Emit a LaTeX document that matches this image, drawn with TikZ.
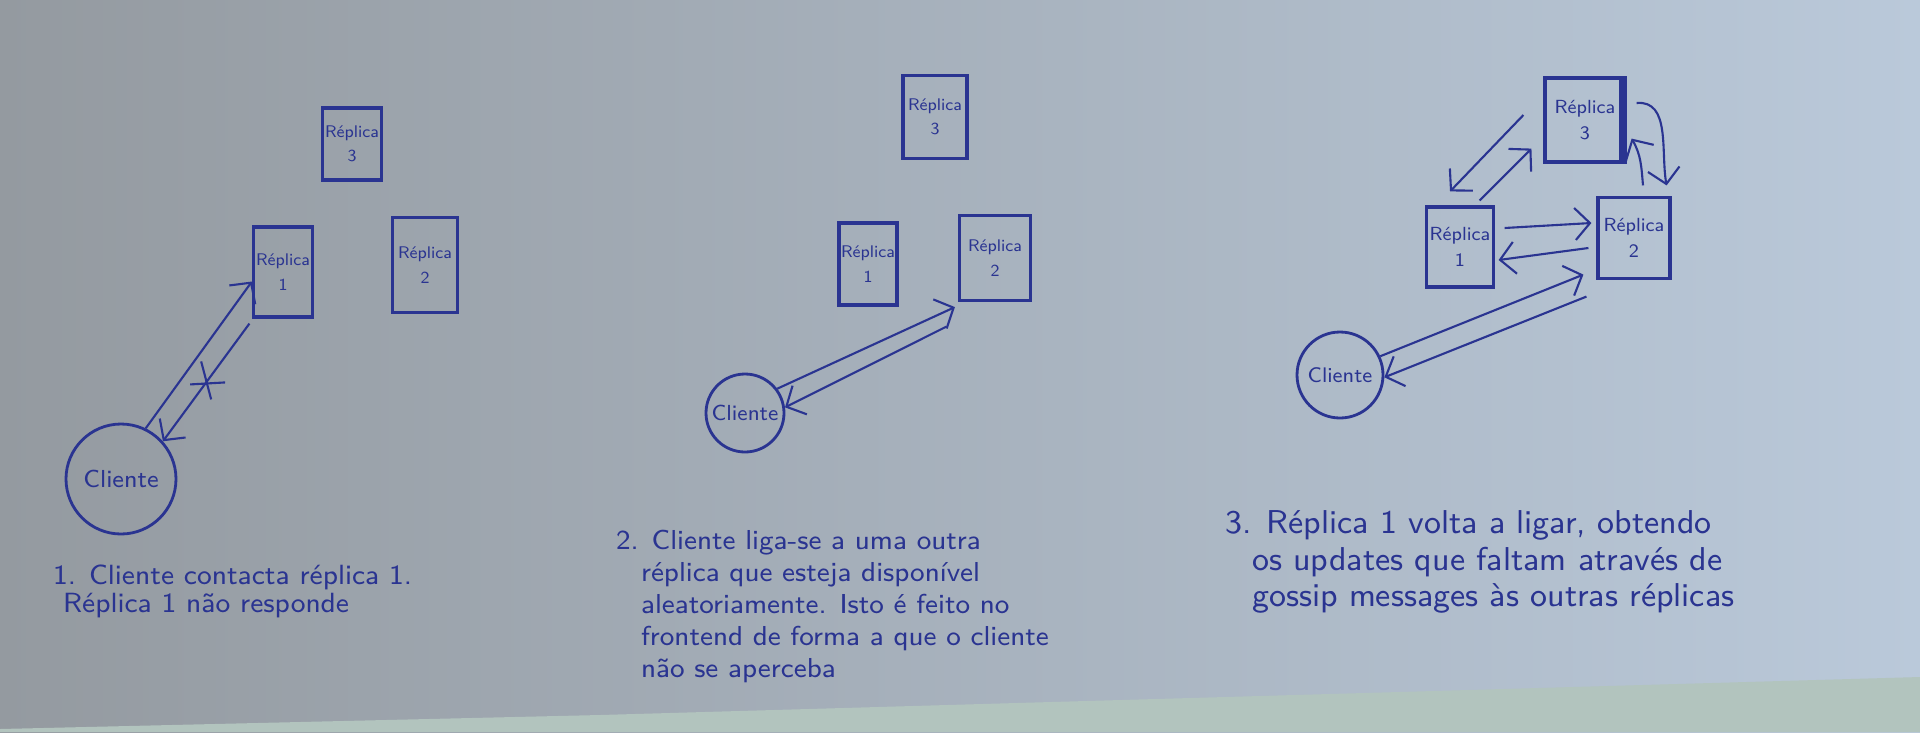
\documentclass[tikz,border=0pt]{standalone}
\usepackage{fontspec}
\usepackage{tikz}
\usetikzlibrary{arrows.meta}

\definecolor{ink}{RGB}{42,52,145}
\definecolor{paperL}{RGB}{148,154,160}
\definecolor{paperM}{RGB}{178,187,203}
\definecolor{paperR}{RGB}{186,201,218}
\definecolor{table}{RGB}{178,196,190}

\begin{document}
\begin{tikzpicture}[>={Straight Barb[length=1.5mm,width=3.2mm]},
    replica/.style={draw=ink, line width=.9pt, text=ink, inner sep=.4pt, align=center,
      font=\sffamily\fontsize{4.8}{7}\selectfont},
    cliente/.style={circle, draw=ink, line width=.8pt, text=ink, inner sep=.4pt,
      font=\sffamily\fontsize{7}{8}\selectfont},
    nota/.style={anchor=north west, align=left, text=ink, inner sep=0pt},
    every path/.style={ink, line width=.6pt}]
  \useasboundingbox (0,0) rectangle (19.2,7.32);
  % papel
  \shade[left color=paperL, middle color=paperM, right color=paperR] (0,0) rectangle (19.2,7.32);
  \fill[table] (0,0) -- (19.2,0) -- (19.2,0.55) -- (6,0.17) -- (0,0.03) -- cycle;

  % 1. replica 1 nao responde
  \node[replica, minimum width=.59cm, minimum height=.72cm] (r13) at (3.52,5.88) {Réplica\\3};
  \node[replica, minimum width=.59cm, minimum height=.90cm] (r11) at (2.83,4.60) {Réplica\\1};
  \node[replica, minimum width=.65cm, minimum height=.95cm] (r12) at (4.25,4.67) {Réplica\\2};
  \node[cliente, minimum size=1.1cm] (c1) at (1.21,2.53) {Cliente};
  \draw [->] (c1.64) -- (r11.197); % cliente -> replica 1
  \draw [->] ([shift={(-0.025,-0.05)}]r11.south west) -- coordinate[pos=0.5] (x1) (c1.42); % replica 1 -> cliente
  \draw ([shift={(-0.16,-0.02)}]x1) -- ([shift={(0.19,0)}]x1);
  \draw ([shift={(-0.05,0.21)}]x1) -- ([shift={(0.05,-0.17)}]x1);
  \node[nota, font=\sffamily\fontsize{7.9}{8}\selectfont] (t1) at (0.52,1.68)
    {1. Cliente contacta réplica 1.\\\hspace*{0.1cm}Réplica 1 não responde};

  % 2. cliente liga-se a outra replica
  \node[replica, minimum width=.64cm, minimum height=.83cm] (r23) at (9.35,6.15) {Réplica\\3};
  \node[replica, minimum width=.58cm, minimum height=.82cm] (r21) at (8.68,4.68) {Réplica\\1};
  \node[replica, minimum width=.71cm, minimum height=.85cm] (r22) at (9.95,4.74) {Réplica\\2};
  \node[cliente, minimum size=.78cm, font=\sffamily\fontsize{6.2}{7}\selectfont] (c2) at (7.45,3.19) {Cliente};
  \draw [->] (c2.37) -- ([shift={(-0.03,-0.05)}]r22.south west); % cliente -> replica 2
  \draw [->] ([shift={(-0.115,-0.245)}]r22.south west) -- (c2.8); % replica 2 -> cliente
  \node[nota, font=\sffamily\fontsize{7.8}{9.1}\selectfont] (t2) at (6.15,2.03)
    {2. Cliente liga-se a uma outra\\
     \hspace*{0.25cm}réplica que esteja disponível\\
     \hspace*{0.25cm}aleatoriamente. Isto é feito no\\
     \hspace*{0.25cm}frontend de forma a que o cliente\\
     \hspace*{0.25cm}não se aperceba};

  % 3. replica 1 volta a ligar
  \node[replica, minimum width=.80cm, minimum height=.84cm, font=\sffamily\fontsize{5.4}{7.5}\selectfont] (r33) at (15.85,6.12) {Réplica\\3};
  \node[replica, minimum width=.67cm, minimum height=.80cm, font=\sffamily\fontsize{5.4}{7.5}\selectfont] (r31) at (14.60,4.85) {Réplica\\1};
  \node[replica, minimum width=.72cm, minimum height=.81cm, font=\sffamily\fontsize{5.4}{7.5}\selectfont] (r32) at (16.34,4.94) {Réplica\\2};
  \node[cliente, minimum size=.86cm, font=\sffamily\fontsize{6}{7}\selectfont] (c3) at (13.40,3.57) {Cliente};
  \draw [line width=2.2pt] ([xshift=-0.04cm]r33.north east) -- ([xshift=-0.04cm]r33.south east);
  \draw [->] ([shift={(-0.20,0.05)}]r33.west) -- ([shift={(-0.10,0.14)}]r31.north); % 3 -> 1
  \draw [->] ([shift={(-0.155,0.05)}]r31.north east) -- ([shift={(-0.12,0.15)}]r33.south west); % 1 -> 3
  \draw [->] ([shift={(0.10,0.17)}]r33.east) to[out=5, in=100] ([shift={(-0.05,0.105)}]r32.north east); % 3 -> 2
  \draw [->] ([shift={(0.09,0.105)}]r32.north) to[out=95, in=-60] ([shift={(0.05,0.25)}]r33.south east); % 2 -> 3
  \draw [->] ([shift={(0.095,0.19)}]r31.east) -- ([shift={(-0.05,0.15)}]r32.west); % 1 -> 2
  \draw [->] ([shift={(-0.08,-0.10)}]r32.west) -- ([shift={(0.035,-0.13)}]r31.east); % 2 -> 1
  \draw [->] (c3.25) -- ([shift={(-0.13,0.055)}]r32.south west); % cliente -> 2
  \draw [->] ([shift={(-0.10,-0.165)}]r32.south west) -- (c3.-3); % 2 -> cliente
  \node[nota, font=\sffamily\fontsize{9.4}{10.3}\selectfont] (t3) at (12.24,2.22)
    {3. Réplica 1 volta a ligar, obtendo\\
     \hspace*{0.27cm}os updates que faltam através de\\
     \hspace*{0.27cm}gossip messages às outras réplicas};
\end{tikzpicture}
\end{document}
